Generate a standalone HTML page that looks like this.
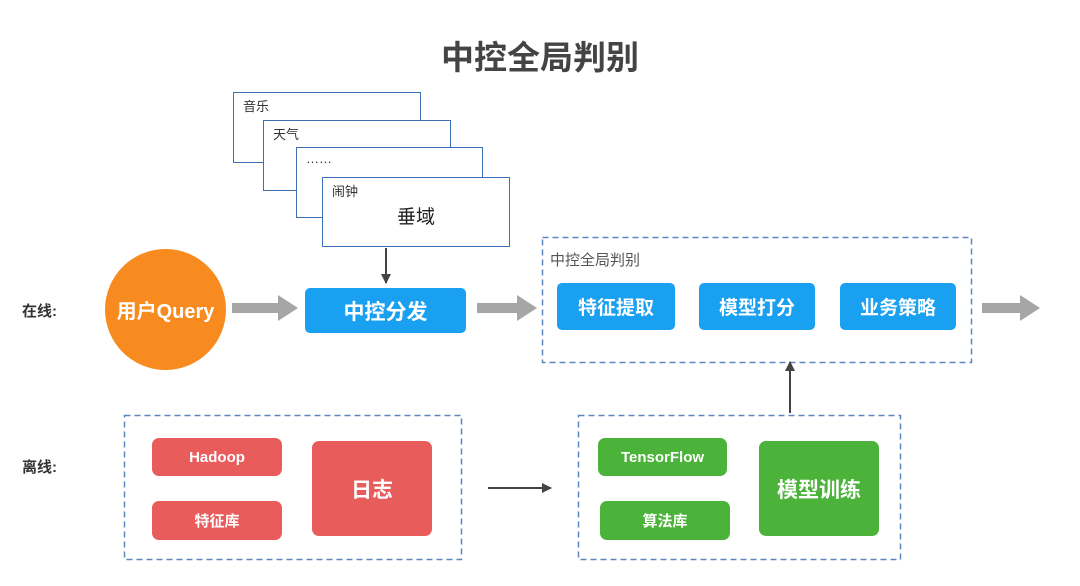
<!DOCTYPE html>
<html><head><meta charset="utf-8"><style>
body{margin:0;width:1080px;height:586px;background:#fff;position:relative;overflow:hidden;font-family:"Liberation Sans","Noto Sans CJK SC",sans-serif}
.a{position:absolute;box-sizing:border-box}
.st{background:#fff;border:1.5px solid #3d6fb5;font-size:13px;color:#333;padding:3px 0 0 9px}
.bl{background:#1aa0f0;color:#fff;border-radius:5px;display:flex;align-items:center;justify-content:center;font-size:19px;font-weight:bold}
.rd{background:#e95c5c;color:#fff;border-radius:7px;display:flex;align-items:center;justify-content:center;font-size:15px;font-weight:bold}
.gr{background:#4bb33a;color:#fff;border-radius:7px;display:flex;align-items:center;justify-content:center;font-size:15px;font-weight:bold}
</style></head><body>
<div class="a" style="left:0;width:1080px;top:31px;text-align:center;font-size:33px;font-weight:bold;color:#444">中控全局判别</div>
<div class="a st" style="left:233px;top:92px;width:188px;height:71px">音乐</div>
<div class="a st" style="left:263px;top:120px;width:188px;height:71px">天气</div>
<div class="a st" style="left:296px;top:147px;width:187px;height:71px">……</div>
<div class="a st" style="left:322px;top:177px;width:188px;height:70px">闹钟<div style="position:absolute;left:0;width:100%;top:24px;text-align:center;font-size:19px;color:#222">垂域</div></div>
<div class="a" style="left:105px;top:249px;width:121px;height:121px;border-radius:50%;background:#f78b1f;color:#fff;font-size:20px;font-weight:bold;display:flex;align-items:center;justify-content:center">用户Query</div>
<div class="a bl" style="left:305px;top:288px;width:161px;height:45px;font-size:21px">中控分发</div>
<div class="a" style="left:550px;top:249px;font-size:15px;color:#555">中控全局判别</div>
<div class="a bl" style="left:557px;top:283px;width:118px;height:47px">特征提取</div>
<div class="a bl" style="left:699px;top:283px;width:116px;height:47px">模型打分</div>
<div class="a bl" style="left:840px;top:283px;width:116px;height:47px">业务策略</div>
<div class="a" style="left:22px;top:300px;font-size:15px;font-weight:bold;color:#333">在线:</div>
<div class="a" style="left:22px;top:456px;font-size:15px;font-weight:bold;color:#333">离线:</div>
<div class="a rd" style="left:152px;top:438px;width:130px;height:38px">Hadoop</div>
<div class="a rd" style="left:152px;top:501px;width:130px;height:39px">特征库</div>
<div class="a rd" style="left:312px;top:441px;width:120px;height:95px;font-size:21px">日志</div>
<div class="a gr" style="left:598px;top:438px;width:129px;height:38px">TensorFlow</div>
<div class="a gr" style="left:600px;top:501px;width:130px;height:39px">算法库</div>
<div class="a gr" style="left:759px;top:441px;width:120px;height:95px;font-size:21px">模型训练</div>
<svg class="a" style="left:0;top:0" width="1080" height="586">
<defs><marker id="m" markerWidth="10" markerHeight="10" refX="9" refY="5" orient="auto" markerUnits="userSpaceOnUse"><path d="M0,0L10,5L0,10z" fill="#444"/></marker></defs>
<g fill="none" stroke="#5b86c0" stroke-width="1.5" stroke-dasharray="6,4">
<rect x="542.5" y="237.5" width="429" height="125"/>
<rect x="124.5" y="415.5" width="337" height="144"/>
<rect x="578.5" y="415.5" width="322" height="144"/>
</g>
<line x1="386" y1="248" x2="386" y2="283" stroke="#444" stroke-width="2" marker-end="url(#m)"/>
<line x1="790" y1="413" x2="790" y2="362" stroke="#444" stroke-width="2" marker-end="url(#m)"/>
<line x1="488" y1="488" x2="551" y2="488" stroke="#444" stroke-width="2" marker-end="url(#m)"/>
<g fill="#a6a6a6">
<path d="M232,303h46v-8l20,13l-20,13v-8h-46z"/>
<path d="M477,303h40v-8l20,13l-20,13v-8h-40z"/>
<path d="M982,303h38v-8l20,13l-20,13v-8h-38z"/>
</g></svg>
</body></html>
